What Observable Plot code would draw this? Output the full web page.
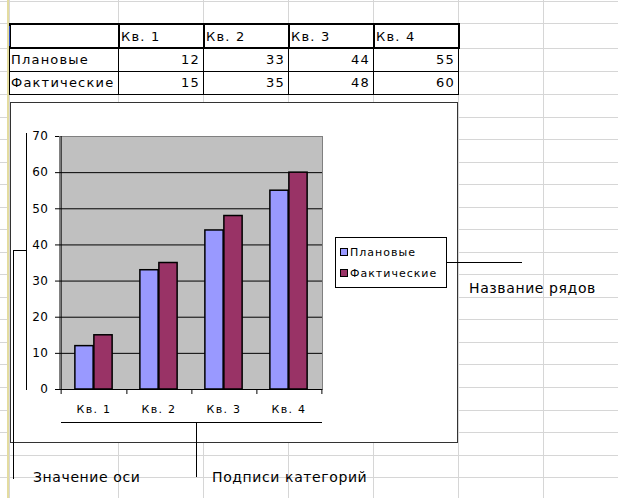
<!DOCTYPE html>
<html><head><meta charset="utf-8">
<script src="https://cdn.jsdelivr.net/npm/d3@7"></script>
<script src="https://cdn.jsdelivr.net/npm/@observablehq/plot@0.6"></script>
<style>
html,body{margin:0;padding:0;background:#fff;}
#page{position:relative;width:618px;height:498px;overflow:hidden;font-family:"DejaVu Sans",sans-serif;color:#000;}
.abs{position:absolute;}
.cell{position:absolute;font-size:13px;letter-spacing:1.2px;line-height:1;white-space:nowrap;}
#chartbox{position:absolute;left:10px;top:102px;width:446px;height:339px;border:1px solid #333;background:#fff;}
#plotwrap{position:absolute;left:0px;top:0px;}
.chart text{font-family:"DejaVu Sans",sans-serif;}
.chart g[aria-label="y-axis tick label"] text{letter-spacing:0.5px;}
.chart g[aria-label="x-axis tick label"] text{letter-spacing:1.3px;}
#legend{position:absolute;left:335px;top:237px;width:110px;height:49px;border:1px solid #000;background:#fff;font-size:11px;letter-spacing:1px;}
.lg{position:absolute;left:4px;white-space:nowrap;line-height:1;}
.sw{display:inline-block;width:6px;height:6px;border:1px solid #000;margin-right:2px;vertical-align:0px;}
.callout{font-size:14px;letter-spacing:0.6px;white-space:nowrap;line-height:1;}
</style></head><body><div id="page"></div>
<script>
// ---- data ----
const quarters = ["Кв. 1", "Кв. 2", "Кв. 3", "Кв. 4"];
const seriesNames = ["Плановые", "Фактические"];
const plan = [12, 33, 44, 55];
const fact = [15, 35, 48, 60];
const yTicks = [0, 10, 20, 30, 40, 50, 60, 70];
const seriesColors = ["#9999ff", "#993366"];
const calloutLabels = ["Значение оси", "Подписи категорий", "Название рядов"];

const page = document.getElementById("page");
const NS = "http://www.w3.org/2000/svg";

// ---- spreadsheet background grid ----
const colEdges = [9, 118, 203, 288, 373, 458, 543];
const rowEdges = [1, 23, 48, 71, 94];
for (let k = 1; rowEdges[rowEdges.length - 1] < 498; k++) rowEdges.push(94 + 22.54 * k);
const bg = document.createElementNS(NS, "svg");
bg.setAttribute("width", 618); bg.setAttribute("height", 498);
bg.setAttribute("class", "abs"); bg.style.left = "0px"; bg.style.top = "0px";
function line(svg, x1, y1, x2, y2, stroke, w) {
  const l = document.createElementNS(NS, "line");
  l.setAttribute("x1", x1); l.setAttribute("y1", y1); l.setAttribute("x2", x2); l.setAttribute("y2", y2);
  l.setAttribute("stroke", stroke); l.setAttribute("stroke-width", w || 1);
  l.setAttribute("shape-rendering", "crispEdges");
  svg.appendChild(l);
}
rowEdges.forEach(y => line(bg, 0, Math.round(y) + 0.5, 618, Math.round(y) + 0.5, "#d6d6d6", 1));
colEdges.forEach(x => line(bg, x + 0.5, 0, x + 0.5, 498, "#d6d6d6", 1));
line(bg, 8, 0, 8, 498, "#e4dca0", 2);
page.appendChild(bg);

// ---- table ----
const tbl = document.createElementNS(NS, "svg");
tbl.setAttribute("width", 618); tbl.setAttribute("height", 120);
tbl.setAttribute("class", "abs"); tbl.style.left = "0px"; tbl.style.top = "0px";
const rect = document.createElementNS(NS, "rect");
rect.setAttribute("x", 9); rect.setAttribute("y", 23); rect.setAttribute("width", 449); rect.setAttribute("height", 71);
rect.setAttribute("fill", "#fff"); tbl.appendChild(rect);
[71, 94].forEach(y => line(tbl, 9, y + 0.5, 458, y + 0.5, "#000", 1));
colEdges.slice(0, 6).forEach(x => line(tbl, x + 0.5, 48, x + 0.5, 94.5, "#000", 1));
line(tbl, 9, 24, 459, 24, "#000", 2);
line(tbl, 9, 48, 459, 48, "#000", 2);
colEdges.slice(0, 6).forEach(x => line(tbl, x + 1, 23, x + 1, 49, "#000", 2));
line(tbl, 9.5, 26, 9.5, 46, "#3050c0", 1);
page.appendChild(tbl);

function addCell(text, left, top, width, align) {
  const d = document.createElement("div");
  d.className = "cell"; d.textContent = text;
  d.style.left = left + "px"; d.style.top = top + "px"; d.style.width = width + "px";
  d.style.textAlign = align;
  page.appendChild(d);
}
quarters.forEach((q, i) => addCell(q, colEdges[i + 1] + 3, 30, 80, "left"));
seriesNames.forEach((s, r) => addCell(s, 11, 53 + r * 23, 106, "left"));
[plan, fact].forEach((vals, r) => vals.forEach((v, i) =>
  addCell(String(v), colEdges[i + 1], 53 + r * 23, 82, "right")));

// ---- chart box ----
const box = document.createElement("div"); box.id = "chartbox"; page.appendChild(box);
const wrap = document.createElement("div"); wrap.id = "plotwrap"; box.appendChild(wrap);

const rows = quarters.flatMap((q, i) => [
  {quarter: q, series: seriesNames[0], value: plan[i]},
  {quarter: q, series: seriesNames[1], value: fact[i]}
]);
const W = 330, H = 320, mL = 48, mR = 19, mT = 33, mB = 34;
const bw = (W - mL - mR) / quarters.length;
const barW = 19;
const plotH = H - mT - mB;

const chart = Plot.plot({
  width: W, height: H, marginLeft: mL, marginRight: mR, marginTop: mT, marginBottom: mB,
  className: "chart",
  style: {background: "transparent", overflow: "visible", fontSize: "12px"},
  x: {domain: quarters, padding: 0, axis: null},
  y: {domain: [0, 70], axis: null},
  color: {domain: seriesNames, range: seriesColors},
  marks: [
    Plot.frame({fill: "#c0c0c0", stroke: "#808080"}),
    Plot.ruleY(yTicks.filter(v => v > 0 && v < 70), {stroke: "#000"}),
    Plot.barY(rows.filter(d => d.series === seriesNames[0]), {
      x: "quarter", y: "value", fill: "series", stroke: "#000", strokeWidth: 1.5,
      insetLeft: bw / 2 - barW, insetRight: bw / 2
    }),
    Plot.barY(rows.filter(d => d.series === seriesNames[1]), {
      x: "quarter", y: "value", fill: "series", stroke: "#000", strokeWidth: 1.5,
      insetLeft: bw / 2, insetRight: bw / 2 - barW
    }),
    Plot.ruleY([0], {stroke: "#000"}),
    Plot.ruleX([quarters[0]], {x: d => d, dx: -bw / 2, stroke: "#000"}),
    Plot.ruleX(quarters, {x: d => d, dx: bw / 2, insetTop: plotH, insetBottom: -5, stroke: "#000"}),
    Plot.ruleX([quarters[0]], {x: d => d, dx: -bw / 2, insetTop: plotH, insetBottom: -5, stroke: "#000"}),
    Plot.axisY({ticks: yTicks, tickSize: 4, tickPadding: 7, label: null, fontSize: 12, stroke: "#000", fill: "#000"}),
    Plot.axisX({tickSize: 0, tickPadding: 16, label: null, fontSize: 11, fill: "#000"})
  ]
});
wrap.appendChild(chart);

// ---- legend ----
const lg = document.createElement("div"); lg.id = "legend";
seriesNames.forEach((s, i) => {
  const it = document.createElement("div"); it.className = "lg";
  it.style.top = (9 + i * 21) + "px";
  const sw = document.createElement("span"); sw.className = "sw"; sw.style.background = seriesColors[i];
  it.appendChild(sw); it.appendChild(document.createTextNode(s));
  lg.appendChild(it);
});
page.appendChild(lg);

// ---- callouts ----
const co = document.createElementNS(NS, "svg");
co.setAttribute("width", 618); co.setAttribute("height", 498);
co.setAttribute("class", "abs"); co.style.left = "0px"; co.style.top = "0px";
line(co, 26.5, 133, 26.5, 390, "#000", 1);
line(co, 13, 250.5, 27, 250.5, "#000", 1);
line(co, 13.5, 250, 13.5, 479, "#000", 1);
line(co, 61, 422.5, 322, 422.5, "#000", 1);
line(co, 196.5, 422, 196.5, 477, "#000", 1);
line(co, 447, 262.5, 522, 262.5, "#000", 1);
page.appendChild(co);
function addCallout(text, left, top) {
  const d = document.createElement("div");
  d.className = "abs callout"; d.textContent = text;
  d.style.left = left + "px"; d.style.top = top + "px";
  page.appendChild(d);
}
addCallout(calloutLabels[0], 33, 470);
addCallout(calloutLabels[1], 212, 470);
addCallout(calloutLabels[2], 469, 281);
</script>
</body></html>
